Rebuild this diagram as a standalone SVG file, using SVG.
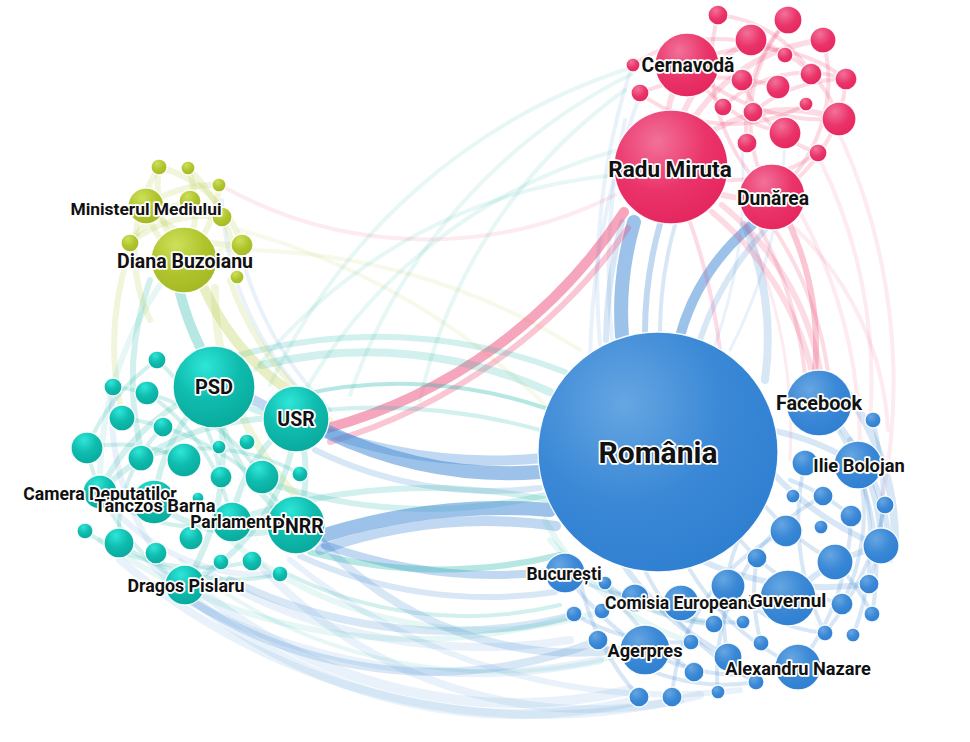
<svg xmlns="http://www.w3.org/2000/svg" width="970" height="742" viewBox="0 0 970 742">
<defs>
<radialGradient id="gb" cx="0.36" cy="0.3" r="0.75"><stop offset="0" stop-color="#66a6e2"/><stop offset="0.55" stop-color="#3a88d6"/><stop offset="1" stop-color="#2f7fd1"/></radialGradient>
<radialGradient id="gt" cx="0.4" cy="0.25" r="0.8"><stop offset="0" stop-color="#2ee6d8"/><stop offset="0.5" stop-color="#0fbcae"/><stop offset="1" stop-color="#08a89b"/></radialGradient>
<radialGradient id="gp" cx="0.38" cy="0.28" r="0.78"><stop offset="0" stop-color="#f2719a"/><stop offset="0.55" stop-color="#ea3469"/><stop offset="1" stop-color="#e4245e"/></radialGradient>
<radialGradient id="gl" cx="0.38" cy="0.28" r="0.78"><stop offset="0" stop-color="#cde05a"/><stop offset="0.55" stop-color="#afc42c"/><stop offset="1" stop-color="#a2b722"/></radialGradient>
<style>
.e path{fill:none;stroke-linecap:round}
.eb{stroke:#3a86d4}.et{stroke:#1db5a6}.ep{stroke:#ee4d7a}.el{stroke:#b9cc4a}
.o1{stroke-opacity:.11}.o2{stroke-opacity:.2}.o3{stroke-opacity:.32}.o4{stroke-opacity:.5}
.w3{stroke-width:3}.w4{stroke-width:4}.w6{stroke-width:6}.w8{stroke-width:8}.w10{stroke-width:10}.w14{stroke-width:14}
.n circle{stroke:#fff;stroke-width:1.3;stroke-opacity:.9}
.b{fill:url(#gb)}.t{fill:url(#gt)}.p{fill:url(#gp)}.l{fill:url(#gl)}
.lab text{font-family:Roboto,"Liberation Sans",sans-serif;font-weight:700;fill:#111;stroke:#fff;stroke-width:3.5;stroke-linejoin:round;paint-order:stroke;text-anchor:middle}
</style>
</defs>
<rect width="970" height="742" fill="#fff"/>
<g id="connectors" class="e">
<!-- long faint arcs -->
<path class="et o1 w4" d="M270,385 A600,600 0 0,1 630,68"/>
<path class="et o1 w4" d="M350,395 A560,560 0 0,1 632,74"/>
<path class="et o1 w4" d="M300,400 A520,520 0 0,1 618,150"/>
<path class="et o1 w4" d="M255,370 A520,520 0 0,1 615,175"/>
<path class="et o1 w4" d="M420,400 A520,520 0 0,1 625,90"/>
<path class="ep o1 w4" d="M222,186 A420,420 0 0,0 615,195"/>
<path class="el o1 w4" d="M218,250 A650,650 0 0,1 580,350"/>
<path class="el o1 w4" d="M240,230 A700,700 0 0,1 560,420"/>
<path class="eb o1 w4" d="M600,345 A700,700 0 0,1 630,72"/>
<path class="eb o1 w4" d="M590,362 A800,800 0 0,1 640,95"/>
<path class="eb o1 w4" d="M612,340 A700,700 0 0,1 625,120"/>
<path class="eb o1 w3" d="M715,345 A500,500 0 0,0 742,145"/>
<path class="eb o1 w3" d="M730,350 A500,500 0 0,0 785,135"/>
<path class="eb o1 w4" d="M222,200 A300,300 0 0,0 300,390"/>
<!-- blue Romania - pink -->
<path class="eb o2 w6" d="M606,340 A500,500 0 0,1 622,222"/>
<path class="eb o4 w14" d="M622,336 A320,320 0 0,1 634,222"/>
<path class="eb o3 w6" d="M645,333 A400,400 0 0,1 660,224"/>
<path class="eb o2 w4" d="M660,333 A400,400 0 0,1 675,225"/>
<path class="eb o4 w10" d="M680,336 A220,220 0 0,1 752,225"/>
<path class="eb o2 w6" d="M700,340 A300,300 0 0,1 765,230"/>
<path class="eb o2 w8" d="M765,380 A300,300 0 0,0 745,225"/>
<!-- pink arcs -->
<path class="ep o4 w10" d="M328,428 A520,520 0 0,0 624,212"/>
<path class="ep o3 w6" d="M330,442 A560,560 0 0,0 628,228"/>
<path class="ep o2 w4" d="M690,222 A600,600 0 0,1 720,350"/>
<path class="ep o1 w4" d="M820,160 A500,500 0 0,1 870,420"/>
<path class="ep o1 w4" d="M840,135 A600,600 0 0,1 882,500"/>
<path class="ep o1 w4" d="M795,228 A300,300 0 0,1 888,430"/>
<path class="ep o3 w6" d="M790,225 A300,300 0 0,1 815,372"/>
<path class="ep o2 w6" d="M712,212 A300,300 0 0,1 812,372"/>
<path class="ep o2 w6" d="M722,205 A280,280 0 0,1 820,370"/>
<path class="ep o2 w4" d="M760,228 A400,400 0 0,1 805,375"/>
<path class="ep o2 w4" d="M775,230 A350,350 0 0,1 828,372"/>
<path class="ep o1 w4" d="M800,212 A500,500 0 0,1 860,445"/>
<path class="ep o1 w3" d="M745,225 A500,500 0 0,1 790,460"/>
<!-- teal cluster to Romania -->
<path class="et o2 w6" d="M240,355 A520,520 0 0,1 565,372"/>
<path class="et o2 w8" d="M262,365 A440,440 0 0,1 550,392"/>
<path class="et o3 w4" d="M300,395 A450,450 0 0,1 545,408"/>
<path class="et o2 w4" d="M325,410 A600,600 0 0,1 540,430"/>
<path class="eb o3 w10" d="M250,398 A500,500 0 0,0 542,458"/>
<path class="eb o4 w14" d="M328,432 A420,420 0 0,0 540,472"/>
<path class="eb o2 w6" d="M315,450 A400,400 0 0,0 540,488"/>
<path class="et o2 w6" d="M260,480 A500,500 0 0,0 545,495"/>
<path class="eb o4 w14" d="M325,535 A600,600 0 0,1 550,510"/>
<path class="eb o3 w10" d="M320,550 A500,500 0 0,1 556,526"/>
<path class="et o2 w6" d="M250,515 A600,600 0 0,1 548,500"/>
<path class="eb o3 w8" d="M325,545 A500,500 0 0,0 548,572"/>
<path class="eb o2 w6" d="M300,556 A450,450 0 0,0 555,592"/>
<path class="et o3 w6" d="M310,552 A500,500 0 0,0 560,555"/>
<path class="et o2 w4" d="M280,570 A400,400 0 0,0 560,605"/>
<path class="eb o2 w8" d="M320,540 A350,350 0 0,0 620,650"/>
<!-- faint bottom arcs -->
<path class="eb o1 w10" d="M200,590 A500,500 0 0,0 630,690"/>
<path class="eb o1 w10" d="M150,560 A520,520 0 0,0 640,700"/>
<path class="eb o2 w8" d="M190,600 A450,450 0 0,0 600,640"/>
<path class="eb o1 w8" d="M260,565 A450,450 0 0,0 680,700"/>
<path class="eb o1 w8" d="M120,560 A650,650 0 0,0 700,695"/>
<path class="eb o2 w8" d="M230,580 A500,500 0 0,0 575,615"/>
<path class="eb o1 w8" d="M210,575 A550,550 0 0,0 570,640"/>
<path class="eb o1 w8" d="M170,590 A600,600 0 0,0 600,660"/>
<path class="et o1 w6" d="M100,540 A550,550 0 0,0 575,615"/>
<path class="et o1 w6" d="M230,540 A400,400 0 0,0 600,612"/>
<path class="et o1 w4" d="M180,560 A500,500 0 0,0 640,650"/>
<path class="eb o1 w6" d="M290,560 A600,600 0 0,0 740,690"/>
<!-- lime links -->
<path class="el o3 w10" d="M205,290 A250,250 0 0,0 285,388"/>
<path class="el o2 w8" d="M215,288 A300,300 0 0,0 300,500"/>
<path class="et o3 w10" d="M180,293 A300,300 0 0,0 200,347"/>
<path class="el o2 w6" d="M130,250 A300,300 0 0,0 120,405"/>
<path class="et o2 w6" d="M150,280 A300,300 0 0,0 140,445"/>
<path class="et o1 w6" d="M160,285 A350,350 0 0,0 100,475"/>
<path class="el o2 w6" d="M230,280 A300,300 0 0,0 330,420"/>
<path class="eb o1 w4" d="M240,250 A350,350 0 0,0 330,410"/>
<!-- lime intra -->
<path class="el o2 w6" d="M184,260 A80,80 0 0,1 146,206"/>
<path class="el o2 w6" d="M184,260 A120,120 0 0,1 159,167"/>
<path class="el o2 w6" d="M184,260 A120,120 0 0,0 188,168"/>
<path class="el o2 w6" d="M184,260 A120,120 0 0,0 219,185"/>
<path class="el o2 w6" d="M146,206 A120,120 0 0,0 242,245"/>
<path class="el o2 w6" d="M130,243 A120,120 0 0,1 222,217"/>
<path class="el o2 w6" d="M159,167 A120,120 0 0,1 242,245"/>
<path class="el o2 w6" d="M146,206 A120,120 0 0,1 219,185"/>
<path class="el o2 w6" d="M190,201 A100,100 0 0,0 130,243"/>
<path class="el o2 w6" d="M159,167 A160,160 0 0,0 150,320"/>
<path class="el o2 w6" d="M188,168 A160,160 0 0,1 237,277"/>
<!-- teal intra -->
<path class="et o2 w6" d="M214,387 A150,150 0 0,0 296,419"/>
<path class="et o2 w6" d="M214,387 A200,200 0 0,0 296,525"/>
<path class="et o2 w6" d="M214,387 A200,200 0 0,0 100,492"/>
<path class="et o2 w6" d="M214,387 A180,180 0 0,0 154,502"/>
<path class="et o2 w6" d="M214,387 A250,250 0 0,1 185,585"/>
<path class="et o2 w6" d="M296,419 A150,150 0 0,1 296,525"/>
<path class="et o2 w6" d="M296,419 A150,150 0 0,0 232,522"/>
<path class="et o2 w6" d="M296,419 A250,250 0 0,0 100,492"/>
<path class="et o2 w4" d="M87,448 A150,150 0 0,1 184,460"/>
<path class="et o2 w4" d="M113,387 A200,200 0 0,1 262,477"/>
<path class="et o2 w4" d="M157,360 A200,200 0 0,1 221,477"/>
<path class="et o2 w4" d="M122,418 A250,250 0 0,1 296,525"/>
<path class="et o2 w4" d="M85,531 A200,200 0 0,0 252,561"/>
<path class="et o2 w4" d="M119,543 A200,200 0 0,0 280,574"/>
<path class="et o2 w4" d="M141,458 A200,200 0 0,1 300,474"/>
<path class="et o2 w4" d="M147,393 A200,200 0 0,1 232,522"/>
<path class="et o2 w4" d="M87,448 A200,200 0 0,0 185,585"/>
<path class="et o2 w4" d="M163,427 A150,150 0 0,0 119,543"/>
<path class="et o2 w6" d="M296,419 A200,200 0 0,1 185,585"/>
<path class="et o2 w4" d="M100,492 A150,150 0 0,0 232,522"/>
<path class="et o2 w6" d="M154,502 A150,150 0 0,0 296,525"/>
<path class="et o2 w4" d="M157,360 A200,200 0 0,0 87,448"/>
<path class="eb o1 w6" d="M113,387 A250,250 0 0,0 156,553"/>
<path class="eb o1 w6" d="M100,492 A200,200 0 0,0 280,574"/>
<!-- pink intra -->
<path class="ep o2 w6" d="M671,167 A120,120 0 0,1 687,65"/>
<path class="ep o2 w6" d="M671,167 A120,120 0 0,0 772,197"/>
<path class="ep o2 w6" d="M671,167 A150,150 0 0,1 751,40"/>
<path class="ep o2 w6" d="M671,167 A150,150 0 0,1 839,119"/>
<path class="ep o2 w6" d="M671,167 A180,180 0 0,1 823,40"/>
<path class="ep o2 w4" d="M687,65 A150,150 0 0,1 846,79"/>
<path class="ep o2 w4" d="M687,65 A150,150 0 0,0 785,133"/>
<path class="ep o2 w4" d="M772,197 A150,150 0 0,1 788,20"/>
<path class="ep o2 w4" d="M772,197 A180,180 0 0,1 718,15"/>
<path class="ep o2 w4" d="M751,40 A120,120 0 0,1 839,119"/>
<path class="ep o2 w4" d="M742,80 A120,120 0 0,0 818,153"/>
<path class="ep o2 w4" d="M723,107 A120,120 0 0,1 846,79"/>
<path class="ep o2 w4" d="M788,20 A150,150 0 0,0 747,143"/>
<path class="ep o2 w4" d="M633,65 A150,150 0 0,1 785,55"/>
<path class="ep o2 w4" d="M640,93 A150,150 0 0,0 806,104"/>
<path class="ep o2 w4" d="M671,167 A150,150 0 0,0 818,153"/>
<path class="ep o2 w4" d="M772,197 A150,150 0 0,0 823,40"/>
<path class="ep o2 w4" d="M772,197 A150,150 0 0,0 846,79"/>
<path class="ep o2 w4" d="M718,15 A120,120 0 0,1 811,74"/>
<path class="ep o2 w4" d="M687,65 A200,200 0 0,0 839,119"/>
<path class="ep o2 w4" d="M640,93 A200,200 0 0,1 778,87"/>
<path class="ep o2 w4" d="M753,112 A150,150 0 0,1 846,79"/>
<!-- blue intra -->
<path class="eb o2 w8" d="M845,390 A250,250 0 0,1 895,540"/>
<path class="eb o2 w6" d="M850,440 A200,200 0 0,1 890,560"/>
<path class="eb o2 w6" d="M770,470 A300,300 0 0,0 880,546"/>
<path class="eb o2 w4" d="M760,500 A250,250 0 0,0 835,562"/>
<path class="eb o2 w4" d="M740,540 A200,200 0 0,0 842,604"/>
<path class="eb o2 w6" d="M700,560 A300,300 0 0,0 869,584"/>
<path class="eb o2 w4" d="M690,570 A250,250 0 0,0 798,667"/>
<path class="eb o2 w6" d="M620,560 A300,300 0 0,0 728,657"/>
<path class="eb o2 w4" d="M600,575 A300,300 0 0,0 694,672"/>
<path class="eb o2 w4" d="M580,580 A250,250 0 0,0 639,697"/>
<path class="eb o2 w4" d="M640,560 A250,250 0 0,0 756,682"/>
<path class="eb o2 w6" d="M819,403 A200,200 0 0,1 881,546"/>
<path class="eb o2 w4" d="M819,403 A260,260 0 0,1 872,614"/>
<path class="eb o2 w4" d="M858,465 A200,200 0 0,1 842,604"/>
<path class="eb o2 w4" d="M858,465 A250,250 0 0,1 853,635"/>
<path class="eb o2 w4" d="M805,463 A250,250 0 0,0 825,633"/>
<path class="eb o2 w4" d="M823,496 A200,200 0 0,0 718,692"/>
<path class="eb o2 w4" d="M851,516 A250,250 0 0,1 798,667"/>
<path class="eb o2 w4" d="M786,531 A200,200 0 0,0 672,697"/>
<path class="eb o2 w4" d="M885,505 A300,300 0 0,1 825,633"/>
<path class="eb o2 w4" d="M873,420 A300,300 0 0,1 869,584"/>
<path class="eb o2 w4" d="M757,558 A200,200 0 0,0 761,643"/>
<path class="eb o2 w4" d="M728,586 A150,150 0 0,0 825,633"/>
<path class="eb o2 w6" d="M681,603 A200,200 0 0,0 788,598"/>
<path class="eb o2 w4" d="M645,650 A200,200 0 0,0 798,667"/>
<path class="eb o2 w4" d="M565,573 A250,250 0 0,0 681,603"/>
<path class="eb o2 w4" d="M565,573 A300,300 0 0,0 645,650"/>
<path class="eb o2 w4" d="M605,583 A200,200 0 0,0 714,624"/>
<path class="eb o2 w4" d="M635,598 A200,200 0 0,0 743,622"/>
<path class="eb o2 w6" d="M788,598 A200,200 0 0,1 881,546"/>
<path class="eb o2 w4" d="M835,562 A200,200 0 0,1 872,614"/>
<path class="eb o2 w6" d="M770,430 A250,250 0 0,1 858,465"/>
<path class="eb o2 w4" d="M790,480 A200,200 0 0,1 851,516"/>
<path class="eb o2 w4" d="M598,640 A200,200 0 0,0 756,682"/>
<path class="eb o2 w4" d="M574,614 A200,200 0 0,0 691,642"/>
<path class="eb o2 w4" d="M745,525 A200,200 0 0,0 728,657"/>
<path class="et o1 w6" d="M545,520 A250,250 0 0,0 691,642"/>
<path class="et o1 w6" d="M550,540 A250,250 0 0,0 714,624"/>
</g>
<g id="nodes" class="n">
<g id="n-l1"><circle class="l" cx="159" cy="167" r="8"/></g>
<g id="n-l2"><circle class="l" cx="188" cy="168" r="7"/></g>
<g id="n-l3"><circle class="l" cx="219" cy="185" r="7"/></g>
<g id="n-l4"><circle class="l" cx="190" cy="201" r="11"/></g>
<g id="n-l5"><circle class="l" cx="222" cy="217" r="10"/></g>
<g id="n-l6"><circle class="l" cx="130" cy="243" r="9"/></g>
<g id="n-l7"><circle class="l" cx="242" cy="245" r="11"/></g>
<g id="n-l8"><circle class="l" cx="237" cy="277" r="7"/></g>
<g id="n-ministerul-mediului"><circle class="l" cx="146" cy="206" r="18"/></g>
<g id="n-diana-buzoianu"><circle class="l" cx="184" cy="260" r="33"/></g>
<g id="n-t1"><circle class="t" cx="157" cy="360" r="9"/></g>
<g id="n-t2"><circle class="t" cx="113" cy="387" r="9"/></g>
<g id="n-t3"><circle class="t" cx="147" cy="393" r="12"/></g>
<g id="n-t4"><circle class="t" cx="122" cy="418" r="13"/></g>
<g id="n-t5"><circle class="t" cx="163" cy="427" r="10"/></g>
<g id="n-t6"><circle class="t" cx="87" cy="448" r="16"/></g>
<g id="n-t7"><circle class="t" cx="141" cy="458" r="13"/></g>
<g id="n-t8"><circle class="t" cx="184" cy="460" r="17"/></g>
<g id="n-t9"><circle class="t" cx="219" cy="447" r="7"/></g>
<g id="n-t10"><circle class="t" cx="247" cy="442" r="8"/></g>
<g id="n-t11"><circle class="t" cx="221" cy="477" r="11"/></g>
<g id="n-t12"><circle class="t" cx="262" cy="477" r="17"/></g>
<g id="n-t13"><circle class="t" cx="300" cy="474" r="8"/></g>
<g id="n-t14"><circle class="t" cx="198" cy="498" r="6"/></g>
<g id="n-t15"><circle class="t" cx="85" cy="531" r="8"/></g>
<g id="n-t16"><circle class="t" cx="119" cy="543" r="15"/></g>
<g id="n-t17"><circle class="t" cx="191" cy="538" r="12"/></g>
<g id="n-t18"><circle class="t" cx="156" cy="553" r="11"/></g>
<g id="n-t19"><circle class="t" cx="221" cy="562" r="8"/></g>
<g id="n-t20"><circle class="t" cx="252" cy="561" r="10"/></g>
<g id="n-t21"><circle class="t" cx="280" cy="574" r="8"/></g>
<g id="n-camera-deputatilor"><circle class="t" cx="100" cy="492" r="17"/></g>
<g id="n-tanczos-barna"><circle class="t" cx="154" cy="502" r="22"/></g>
<g id="n-parlamentul"><circle class="t" cx="232" cy="522" r="20"/></g>
<g id="n-dragos-pislaru"><circle class="t" cx="185" cy="585" r="20"/></g>
<g id="n-pnrr"><circle class="t" cx="296" cy="525" r="29"/></g>
<g id="n-usr"><circle class="t" cx="296" cy="419" r="33"/></g>
<g id="n-psd"><circle class="t" cx="214" cy="387" r="41"/></g>
<g id="n-p1"><circle class="p" cx="718" cy="15" r="10"/></g>
<g id="n-p2"><circle class="p" cx="751" cy="40" r="16"/></g>
<g id="n-p3"><circle class="p" cx="788" cy="20" r="14"/></g>
<g id="n-p4"><circle class="p" cx="823" cy="40" r="13"/></g>
<g id="n-p5"><circle class="p" cx="633" cy="65" r="7"/></g>
<g id="n-p6"><circle class="p" cx="640" cy="93" r="9"/></g>
<g id="n-p7"><circle class="p" cx="785" cy="55" r="8"/></g>
<g id="n-p8"><circle class="p" cx="742" cy="80" r="11"/></g>
<g id="n-p9"><circle class="p" cx="778" cy="87" r="12"/></g>
<g id="n-p10"><circle class="p" cx="811" cy="74" r="11"/></g>
<g id="n-p11"><circle class="p" cx="846" cy="79" r="11"/></g>
<g id="n-p12"><circle class="p" cx="723" cy="107" r="9"/></g>
<g id="n-p13"><circle class="p" cx="753" cy="112" r="10"/></g>
<g id="n-p14"><circle class="p" cx="806" cy="104" r="7"/></g>
<g id="n-p15"><circle class="p" cx="839" cy="119" r="17"/></g>
<g id="n-p16"><circle class="p" cx="785" cy="133" r="16"/></g>
<g id="n-p17"><circle class="p" cx="747" cy="143" r="10"/></g>
<g id="n-p18"><circle class="p" cx="818" cy="153" r="9"/></g>
<g id="n-cernavoda"><circle class="p" cx="687" cy="65" r="32"/></g>
<g id="n-radu-miruta"><circle class="p" cx="671" cy="167" r="57"/></g>
<g id="n-dunarea"><circle class="p" cx="772" cy="197" r="33"/></g>
<g id="n-b1"><circle class="b" cx="873" cy="420" r="8"/></g>
<g id="n-b2"><circle class="b" cx="805" cy="463" r="13"/></g>
<g id="n-b3"><circle class="b" cx="793" cy="496" r="7"/></g>
<g id="n-b4"><circle class="b" cx="823" cy="496" r="10"/></g>
<g id="n-b5"><circle class="b" cx="885" cy="505" r="9"/></g>
<g id="n-b6"><circle class="b" cx="851" cy="516" r="11"/></g>
<g id="n-b7"><circle class="b" cx="821" cy="527" r="7"/></g>
<g id="n-b8"><circle class="b" cx="786" cy="531" r="16"/></g>
<g id="n-b9"><circle class="b" cx="881" cy="546" r="18"/></g>
<g id="n-b10"><circle class="b" cx="757" cy="558" r="10"/></g>
<g id="n-b11"><circle class="b" cx="835" cy="562" r="18"/></g>
<g id="n-b12"><circle class="b" cx="869" cy="584" r="10"/></g>
<g id="n-b13"><circle class="b" cx="728" cy="586" r="17"/></g>
<g id="n-b14"><circle class="b" cx="842" cy="604" r="11"/></g>
<g id="n-b15"><circle class="b" cx="872" cy="614" r="8"/></g>
<g id="n-b16"><circle class="b" cx="714" cy="624" r="9"/></g>
<g id="n-b17"><circle class="b" cx="743" cy="622" r="7"/></g>
<g id="n-b18"><circle class="b" cx="825" cy="633" r="8"/></g>
<g id="n-b19"><circle class="b" cx="853" cy="635" r="7"/></g>
<g id="n-b20"><circle class="b" cx="605" cy="583" r="7"/></g>
<g id="n-b21"><circle class="b" cx="635" cy="598" r="14"/></g>
<g id="n-b22"><circle class="b" cx="574" cy="614" r="8"/></g>
<g id="n-b23"><circle class="b" cx="602" cy="611" r="8"/></g>
<g id="n-b24"><circle class="b" cx="598" cy="640" r="10"/></g>
<g id="n-b25"><circle class="b" cx="691" cy="642" r="8"/></g>
<g id="n-b26"><circle class="b" cx="761" cy="643" r="8"/></g>
<g id="n-b27"><circle class="b" cx="728" cy="657" r="14"/></g>
<g id="n-b28"><circle class="b" cx="694" cy="672" r="10"/></g>
<g id="n-b29"><circle class="b" cx="756" cy="682" r="8"/></g>
<g id="n-b30"><circle class="b" cx="718" cy="692" r="7"/></g>
<g id="n-b31"><circle class="b" cx="639" cy="697" r="10"/></g>
<g id="n-b32"><circle class="b" cx="672" cy="697" r="10"/></g>
<g id="n-bucuresti"><circle class="b" cx="565" cy="573" r="20"/></g>
<g id="n-comisia-europeana"><circle class="b" cx="681" cy="603" r="18"/></g>
<g id="n-agerpres"><circle class="b" cx="645" cy="650" r="25"/></g>
<g id="n-alexandru-nazare"><circle class="b" cx="798" cy="667" r="23"/></g>
<g id="n-guvernul"><circle class="b" cx="788" cy="598" r="28"/></g>
<g id="n-ilie-bolojan"><circle class="b" cx="858" cy="465" r="24"/></g>
<g id="n-facebook"><circle class="b" cx="819" cy="403" r="33"/></g>
<g id="n-romania"><circle class="b" cx="658" cy="452" r="120"/></g>
</g>
<g id="labels" class="lab">
<text x="146" y="215" font-size="17.4">Ministerul Mediului</text>
<text x="185" y="268" font-size="19.5">Diana Buzoianu</text>
<text x="214" y="394" font-size="20">PSD</text>
<text x="296" y="426" font-size="19.5">USR</text>
<text x="100" y="500" font-size="17.6">Camera Deputatilor</text>
<text x="155" y="512" font-size="18.3">Tanczos Barna</text>
<text x="238" y="528" font-size="17.5">Parlamentul</text>
<text x="298" y="533" font-size="19.5">PNRR</text>
<text x="186" y="592" font-size="17.8">Dragos Pislaru</text>
<text x="688" y="72" font-size="19.3">Cernavodă</text>
<text x="670" y="177" font-size="22.5">Radu Miruta</text>
<text x="773" y="205" font-size="19.3">Dunărea</text>
<text x="658" y="463" font-size="30">România</text>
<text x="819" y="410" font-size="19.8">Facebook</text>
<text x="859" y="472" font-size="18.3">Ilie Bolojan</text>
<text x="564" y="580" font-size="17.5">București</text>
<text x="681" y="609" font-size="17.5">Comisia Europeană</text>
<text x="788" y="607" font-size="19">Guvernul</text>
<text x="645" y="657" font-size="18.2">Agerpres</text>
<text x="798" y="675" font-size="18.2">Alexandru Nazare</text>
</g>
</svg>
